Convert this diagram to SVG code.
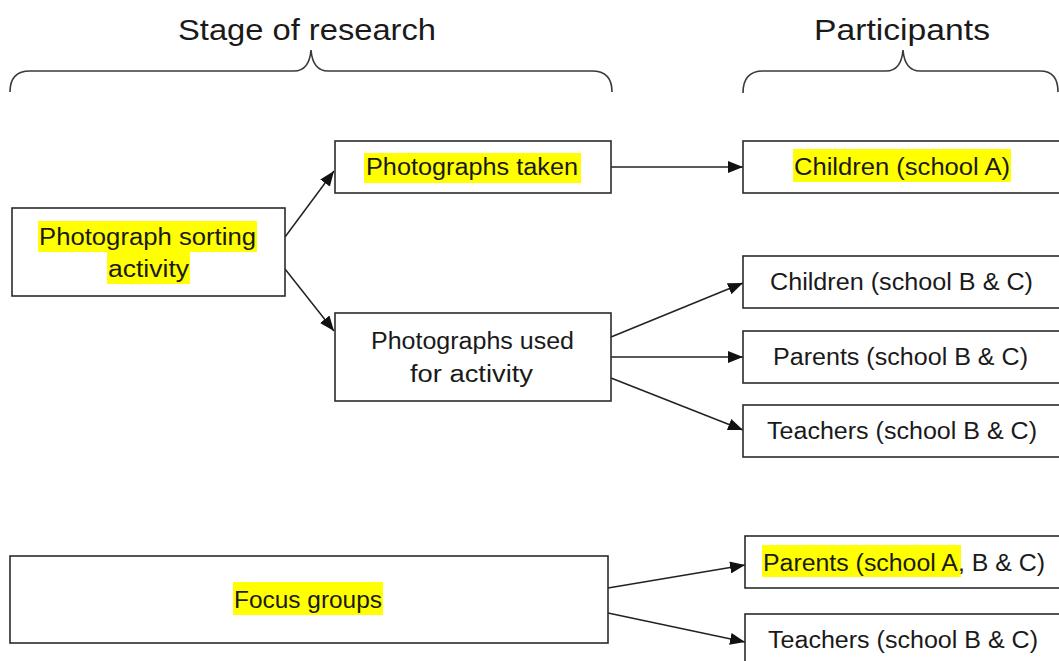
<svg xmlns="http://www.w3.org/2000/svg" width="1059" height="661" viewBox="0 0 1059 661">
  <style>
    .box { fill: #ffffff; stroke: #2b2b2b; stroke-width: 1.6; }
    .lbl { font-family: "Liberation Sans", Arial, sans-serif; font-size: 23px; fill: #1a1a1a; }
    .head { font-family: "Liberation Sans", Arial, sans-serif; font-size: 29px; fill: #1a1a1a; }
    .hl { fill: #ffff00; }
    .brace { fill: none; stroke: #3a3a3a; stroke-width: 1.6; }
    .conn { fill: none; stroke: #222222; stroke-width: 1.5; marker-end: url(#arrow); }
  </style>
  <defs>
    <marker id="arrow" markerUnits="userSpaceOnUse" markerWidth="15" markerHeight="12" refX="15" refY="6" orient="auto">
      <path d="M0,0 L15,6 L0,12 z" fill="#111111"/>
    </marker>
  </defs>
  <rect width="1059" height="661" fill="#ffffff"/>

  <!-- column headings with braces -->
  <g id="heading-stage">
    <text class="head" x="178" y="40" textLength="258" lengthAdjust="spacingAndGlyphs">Stage of research</text>
    <path class="brace" d="M10,92 Q10,71 30,71 L294,71 C305,71 310,62 311,50 C312,62 317,71 328,71 L592,71 Q612,71 612,92"/>
  </g>
  <g id="heading-participants">
    <text class="head" x="814" y="40" textLength="176" lengthAdjust="spacingAndGlyphs">Participants</text>
    <path class="brace" d="M743,93 Q743,71 763,71 L886,71 C897,71 902,62 903,50 C904,62 909,71 920,71 L1040,71 Q1058,71 1058,92"/>
  </g>

  <!-- connectors -->
  <g id="connectors">
    <line class="conn" x1="285" y1="237" x2="334" y2="171"/>
    <line class="conn" x1="285" y1="269" x2="334" y2="331"/>
    <line class="conn" x1="611" y1="167" x2="743" y2="167"/>
    <line class="conn" x1="611" y1="337" x2="743" y2="283"/>
    <line class="conn" x1="611" y1="357" x2="743" y2="357"/>
    <line class="conn" x1="611" y1="378" x2="743" y2="430"/>
    <line class="conn" x1="608" y1="588" x2="745" y2="565"/>
    <line class="conn" x1="608" y1="613" x2="745" y2="642"/>
  </g>

  <!-- stage nodes -->
  <g id="node-sorting">
    <rect class="box" x="12" y="208" width="273" height="88"/>
    <rect class="hl" x="38" y="221" width="219" height="31"/>
    <rect class="hl" x="107" y="252" width="83" height="32"/>
    <text class="lbl" x="39" y="245" textLength="217" lengthAdjust="spacingAndGlyphs">Photograph sorting</text>
    <text class="lbl" x="108" y="277" textLength="81" lengthAdjust="spacingAndGlyphs">activity</text>
  </g>
  <g id="node-taken">
    <rect class="box" x="335" y="141" width="276" height="52"/>
    <rect class="hl" x="364" y="153" width="217" height="30"/>
    <text class="lbl" x="366" y="175" textLength="212" lengthAdjust="spacingAndGlyphs">Photographs taken</text>
  </g>
  <g id="node-used">
    <rect class="box" x="335" y="313" width="276" height="88"/>
    <text class="lbl" x="371" y="349" textLength="203" lengthAdjust="spacingAndGlyphs">Photographs used</text>
    <text class="lbl" x="410" y="382" textLength="123" lengthAdjust="spacingAndGlyphs">for activity</text>
  </g>
  <g id="node-focus">
    <rect class="box" x="10" y="556" width="598" height="87"/>
    <rect class="hl" x="233" y="582" width="150" height="33"/>
    <text class="lbl" x="234" y="608" textLength="148" lengthAdjust="spacingAndGlyphs">Focus groups</text>
  </g>

  <!-- participant nodes -->
  <g id="node-children-a">
    <rect class="box" x="743" y="141" width="330" height="52"/>
    <rect class="hl" x="793" y="149" width="218" height="33"/>
    <text class="lbl" x="794" y="175" textLength="216" lengthAdjust="spacingAndGlyphs">Children (school A)</text>
  </g>
  <g id="node-children-bc">
    <rect class="box" x="743" y="256" width="330" height="52"/>
    <text class="lbl" x="770" y="290" textLength="263" lengthAdjust="spacingAndGlyphs">Children (school B &amp; C)</text>
  </g>
  <g id="node-parents-bc">
    <rect class="box" x="743" y="331" width="330" height="52"/>
    <text class="lbl" x="773" y="365" textLength="255" lengthAdjust="spacingAndGlyphs">Parents (school B &amp; C)</text>
  </g>
  <g id="node-teachers-bc">
    <rect class="box" x="743" y="405" width="330" height="52"/>
    <text class="lbl" x="767" y="439" textLength="270" lengthAdjust="spacingAndGlyphs">Teachers (school B &amp; C)</text>
  </g>
  <g id="node-parents-abc">
    <rect class="box" x="745" y="536" width="330" height="52"/>
    <rect class="hl" x="762" y="545" width="199" height="32"/>
    <text class="lbl" x="763" y="571" textLength="282" lengthAdjust="spacingAndGlyphs">Parents (school A, B &amp; C)</text>
  </g>
  <g id="node-teachers-bc-2">
    <rect class="box" x="745" y="614" width="330" height="60"/>
    <text class="lbl" x="768" y="648" textLength="270" lengthAdjust="spacingAndGlyphs">Teachers (school B &amp; C)</text>
  </g>
</svg>
